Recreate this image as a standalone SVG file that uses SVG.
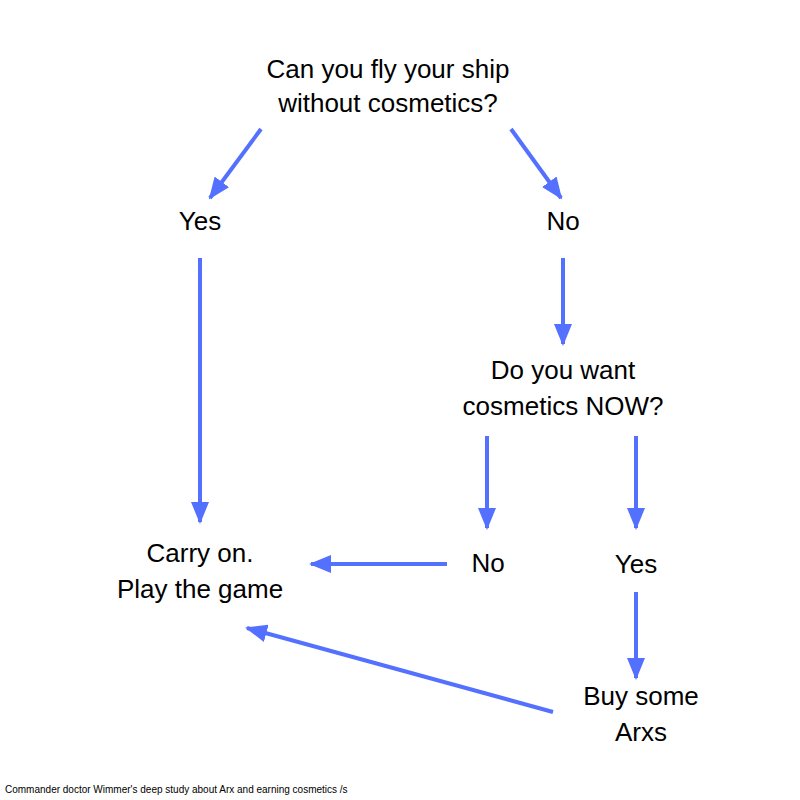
<svg xmlns="http://www.w3.org/2000/svg" width="800" height="800" viewBox="0 0 800 800">
<style>
text{font-family:"Liberation Sans",Arial,sans-serif;font-size:26px;fill:#000;text-anchor:middle}
.f{font-size:10px;text-anchor:start}
line{stroke:#5470ff;stroke-width:4;marker-end:url(#a)}
</style>
<defs><marker id="a" markerUnits="userSpaceOnUse" markerWidth="22" markerHeight="18" refX="20" refY="9" orient="auto"><path d="M0,0L22,9L0,18z" fill="#5470ff"/></marker></defs>
<rect width="800" height="800" fill="#fff"/>
<g id="q1"><text x="388" y="78">Can you fly your ship</text><text x="388" y="112">without cosmetics?</text></g>
<g id="yes1"><text x="200" y="230">Yes</text></g>
<g id="no1"><text x="563" y="230">No</text></g>
<g id="q2"><text x="563" y="379">Do you want</text><text x="563" y="415">cosmetics NOW?</text></g>
<g id="carry"><text x="200" y="562">Carry on.</text><text x="200" y="598">Play the game</text></g>
<g id="no2"><text x="488" y="572">No</text></g>
<g id="yes2"><text x="636" y="573">Yes</text></g>
<g id="buy"><text x="641" y="705">Buy some</text><text x="641" y="741">Arxs</text></g>
<g id="connectors">
<line x1="261" y1="129" x2="210" y2="198"/>
<line x1="511" y1="129" x2="561" y2="198"/>
<line x1="200" y1="258" x2="200" y2="522"/>
<line x1="563" y1="258" x2="563" y2="344"/>
<line x1="487" y1="436" x2="487" y2="528"/>
<line x1="636" y1="436" x2="636" y2="528"/>
<line x1="447" y1="564" x2="311" y2="564"/>
<line x1="636" y1="592" x2="636" y2="678"/>
<line x1="553" y1="712" x2="247" y2="628"/>
</g>
<text class="f" x="5" y="793">Commander doctor Wimmer's deep study about Arx and earning cosmetics   /s</text>
</svg>
